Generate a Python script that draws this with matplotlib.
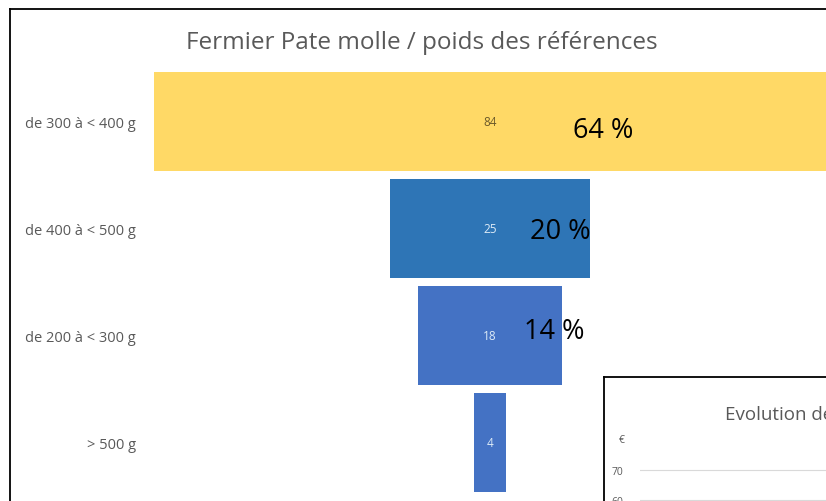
import matplotlib.pyplot as plt
from matplotlib.lines import Line2D

# funnel data, top to bottom
categories = ['de 300 à < 400 g', 'de 400 à < 500 g', 'de 200 à < 300 g', '> 500 g']
counts = [84, 25, 18, 4]
percents = ['64 %', '20 %', '14 %', '']

bar_colors = ['#FFD966', '#2E75B6', '#4472C4', '#4472C4']
count_colors = ['#6B5A2A', '#DDEBF7', '#DDEBF7', '#DDEBF7']
# where the big % labels sit (x in data units, y shift in bar units)
pct_x = [10.4, 5.0, 4.3, 0]
pct_dy = [0.08, 0.02, -0.04, 0]

W, H = 826, 502
fig = plt.figure(figsize=(W / 100, H / 100), dpi=100)
plt.rcParams['font.family'] = ['Open Sans', 'DejaVu Sans']

def px_box(x0, y0, x1, y1):
    # pixel box (top-left origin) -> figure fraction rect
    return [x0 / W, 1 - y1 / H, (x1 - x0) / W, (y1 - y0) / H]

# main funnel axes
ax = fig.add_axes(px_box(150, 0, W, H))
scale = 8.0
center = 490
ax.set_xlim((150 - center) / scale, (W - center) / scale)
step = 107
ax.set_ylim((H - 122.5) / step, -122.5 / step)

ypos = list(range(len(categories)))
lefts = [-c / 2 for c in counts]
ax.barh(ypos, counts, left=lefts, height=0.925, color=bar_colors)

for i in ypos:
    ax.text(0, i, str(counts[i]), ha='center', va='center',
            fontsize=8.5, color=count_colors[i])
    if percents[i]:
        ax.text(pct_x[i], i + pct_dy[i], percents[i], ha='left', va='center',
                fontsize=19.5, color='black')

ax.set_yticks(ypos)
ax.set_yticklabels(categories, fontsize=10.5, color='#595959')
ax.tick_params(axis='y', length=0, pad=10)
ax.set_xticks([])
for s in ax.spines.values():
    s.set_visible(False)
ax.patch.set_alpha(0)

fig.text(422 / W, 1 - 43 / H, 'Fermier Pate molle / poids des références',
         ha='center', va='center', fontsize=17.5, color='#595959')

# outer chart border (cropped)
fig.add_artist(Line2D([10 / W, 10 / W], [0, 1 - 10 / H], color='black', lw=1.3,
                      transform=fig.transFigure))
fig.add_artist(Line2D([10 / W, 1], [1 - 10 / H, 1 - 10 / H], color='black', lw=1.3,
                      transform=fig.transFigure))

# second chart peeking in the bottom-right corner
frame = fig.add_axes(px_box(604, 378, W + 5, H + 5))
frame.set_xticks([])
frame.set_yticks([])
frame.set_facecolor('white')
for k in ['right', 'bottom']:
    frame.spines[k].set_visible(False)
for k in ['left', 'top']:
    frame.spines[k].set_linewidth(1.3)
    frame.spines[k].set_color('black')

inset = fig.add_axes(px_box(640, 378, W, H))
inset.set_ylim(59.7, 101)
inset.set_yticks([60, 70])
inset.set_yticklabels(['60', '70'], fontsize=7.5, color='#595959')
inset.tick_params(axis='y', length=0, pad=12)
inset.set_xticks([])
inset.grid(axis='y', color='#D9D9D9', lw=0.8)
for s in inset.spines.values():
    s.set_visible(False)
inset.patch.set_alpha(0)
fig.text(725 / W, 1 - 415 / H, 'Evolution des prix', ha='left', va='center',
         fontsize=13.5, color='#595959')
fig.text(622 / W, 1 - 441 / H, '€', ha='center', va='center',
         fontsize=7.5, color='#595959')

fig.savefig('out.png', dpi=100)
